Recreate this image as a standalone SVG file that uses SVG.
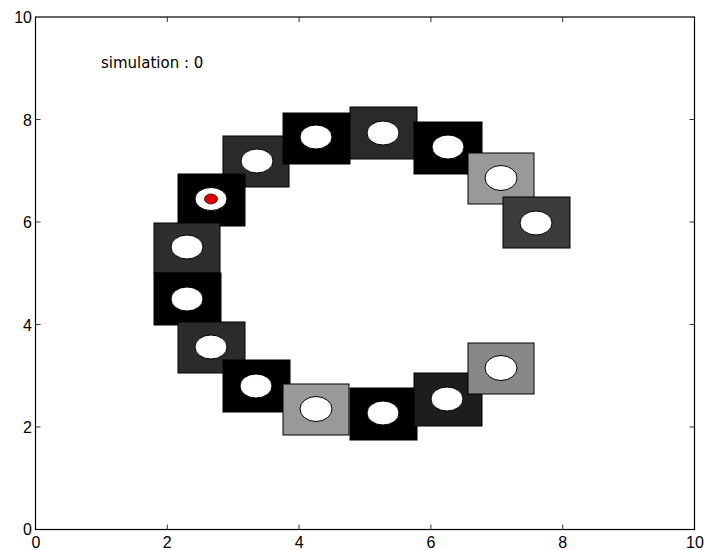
<svg xmlns="http://www.w3.org/2000/svg" width="704" height="550" viewBox="0 0 704 550">
<style>
.tl{font-family:"Liberation Sans",Arial,sans-serif;font-size:16px;fill:#000}
.box rect{stroke:#000;stroke-width:1}
.box ellipse.h{fill:#fff;stroke:#000;stroke-width:1}
.tick{stroke:#000;stroke-width:0.8}
</style>
<rect width="704" height="550" fill="#fff"/>
<g id="axes">
<rect x="35.5" y="17" width="659" height="512.5" fill="none" stroke="#000" stroke-width="1.2"/>
<g class="tick">
<line x1="167.3" y1="529.5" x2="167.3" y2="524.5"/><line x1="299.1" y1="529.5" x2="299.1" y2="524.5"/><line x1="430.9" y1="529.5" x2="430.9" y2="524.5"/><line x1="562.7" y1="529.5" x2="562.7" y2="524.5"/>
<line x1="167.3" y1="17" x2="167.3" y2="22"/><line x1="299.1" y1="17" x2="299.1" y2="22"/><line x1="430.9" y1="17" x2="430.9" y2="22"/><line x1="562.7" y1="17" x2="562.7" y2="22"/>
<line x1="35.5" y1="119.5" x2="40.5" y2="119.5"/><line x1="35.5" y1="222" x2="40.5" y2="222"/><line x1="35.5" y1="324.5" x2="40.5" y2="324.5"/><line x1="35.5" y1="427" x2="40.5" y2="427"/>
<line x1="694.5" y1="119.5" x2="689.5" y2="119.5"/><line x1="694.5" y1="222" x2="689.5" y2="222"/><line x1="694.5" y1="324.5" x2="689.5" y2="324.5"/><line x1="694.5" y1="427" x2="689.5" y2="427"/>
</g>
<g class="tl" text-anchor="end">
<text x="32" y="23">10</text><text x="32" y="125.5">8</text><text x="32" y="228">6</text><text x="32" y="330.5">4</text><text x="32" y="433">2</text><text x="32" y="535">0</text>
</g>
<g class="tl" text-anchor="middle">
<text x="36" y="548">0</text><text x="167.3" y="548">2</text><text x="299.1" y="548">4</text><text x="430.9" y="548">6</text><text x="562.7" y="548">8</text><text x="695" y="548">10</text>
</g>
<text x="101" y="68" font-family="DejaVu Sans,sans-serif" font-size="15">simulation : 0</text>
</g>
<g id="boxA" class="box"><rect x="223" y="136" width="66" height="51" fill="#2b2b2b"/><ellipse class="h" cx="257" cy="161" rx="16" ry="12"/></g>
<g id="boxB" class="box"><rect x="283" y="113" width="67" height="51" fill="#000"/><ellipse class="h" cx="316" cy="137" rx="16" ry="12"/></g>
<g id="boxC" class="box"><rect x="350" y="107" width="67" height="52" fill="#2a2a2a"/><ellipse class="h" cx="383" cy="133" rx="16" ry="12"/></g>
<g id="boxD" class="box"><rect x="414" y="122" width="68" height="52" fill="#000"/><ellipse class="h" cx="448" cy="147" rx="16" ry="12"/></g>
<g id="boxE" class="box"><rect x="468" y="153" width="66" height="51" fill="#999"/><ellipse class="h" cx="501" cy="178" rx="16" ry="12.5"/></g>
<g id="boxF" class="box"><rect x="503" y="197" width="67" height="51" fill="#3c3c3c"/><ellipse class="h" cx="536" cy="223" rx="16" ry="12"/></g>
<g id="boxR" class="box"><rect x="178" y="174" width="67" height="52" fill="#000"/><ellipse class="h" cx="211" cy="199" rx="16" ry="11.5"/><ellipse cx="211" cy="199" rx="6.5" ry="5" fill="#e00000" stroke="#300" stroke-width="0.8"/></g>
<g id="boxG" class="box"><rect x="154" y="223" width="66" height="50" fill="#2e2e2e"/><ellipse class="h" cx="187" cy="247" rx="16" ry="12"/></g>
<g id="boxH" class="box"><rect x="154" y="273" width="67" height="52" fill="#000"/><ellipse class="h" cx="187" cy="299" rx="16" ry="12"/></g>
<g id="boxI" class="box"><rect x="178" y="322" width="67" height="51" fill="#2b2b2b"/><ellipse class="h" cx="211" cy="347" rx="16" ry="12"/></g>
<g id="boxJ" class="box"><rect x="223" y="360" width="67" height="52" fill="#000"/><ellipse class="h" cx="256" cy="386" rx="16" ry="12"/></g>
<g id="boxK" class="box"><rect x="283" y="384" width="66" height="51" fill="#999"/><ellipse class="h" cx="316" cy="409" rx="16" ry="12.5"/></g>
<g id="boxL" class="box"><rect x="350" y="388" width="67" height="52" fill="#000"/><ellipse class="h" cx="383" cy="413" rx="16" ry="12"/></g>
<g id="boxM" class="box"><rect x="414" y="373" width="68" height="53" fill="#1d1d1d"/><ellipse class="h" cx="447" cy="399" rx="16" ry="12"/></g>
<g id="boxN" class="box"><rect x="468" y="343" width="66" height="51" fill="#888"/><ellipse class="h" cx="501" cy="368" rx="16" ry="12.5"/></g>
<g id="connectors"/>
</svg>
